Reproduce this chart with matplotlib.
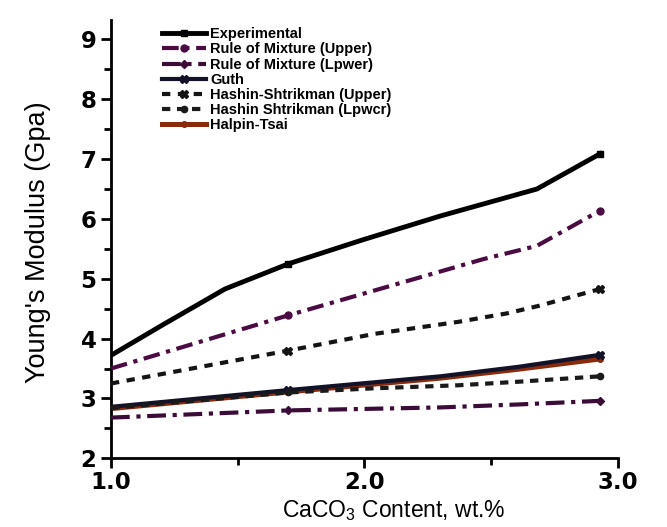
import matplotlib
matplotlib.use("Agg")
import matplotlib.pyplot as plt
from matplotlib.ticker import MultipleLocator, FixedLocator

# ---- data ----
exp_x = [1.0, 1.2, 1.45, 1.7, 2.0, 2.3, 2.68, 2.93]
exp_y = [3.72, 4.22, 4.83, 5.25, 5.66, 6.05, 6.50, 7.09]

romu_x = [1.0, 1.7, 2.47, 2.68, 2.93]
romu_y = [3.50, 4.39, 5.33, 5.55, 6.14]

roml_x = [1.0, 1.7, 2.3, 2.61, 2.93]
roml_y = [2.68, 2.80, 2.85, 2.90, 2.96]

guth_x = [1.0, 1.7, 2.3, 2.61, 2.93]
guth_y = [2.86, 3.14, 3.37, 3.53, 3.73]

hsu_x = [1.0, 1.7, 2.04, 2.37, 2.56, 2.69, 2.93]
hsu_y = [3.25, 3.80, 4.08, 4.28, 4.42, 4.55, 4.83]

hsl_x = [1.0, 1.7, 2.04, 2.37, 2.61, 2.93]
hsl_y = [2.84, 3.10, 3.17, 3.22, 3.28, 3.37]

ht_x = [1.0, 1.7, 2.3, 2.61, 2.93]
ht_y = [2.83, 3.11, 3.34, 3.49, 3.66]

labels = ["Experimental", "Rule of Mixture (Upper)", "Rule of Mixture (Lpwer)",
          "Guth", "Hashin-Shtrikman (Upper)", "Hashin Shtrikman (Lpwcr)", "Halpin-Tsai"]

x_major = [1.0, 2.0, 3.0]
x_minor = [1.5, 2.5]
x_ticklabels = ["1.0", "2.0", "3.0"]
y_ticks = [2, 3, 4, 5, 6, 7, 8, 9]

mark_at = [1.7, 2.93]

def me(xs):
    return [i for i, v in enumerate(xs) if v in mark_at]

plt.rcParams["mathtext.fontset"] = "custom"
plt.rcParams["mathtext.rm"] = "Liberation Sans"
plt.rcParams["mathtext.default"] = "rm"

fig = plt.figure(figsize=(6.67, 5.27), dpi=100)
ax = fig.add_axes([0.1664, 0.1304, 0.7601, 0.8311])

lw = 3.0
ax.plot(ht_x, ht_y, color="#8a2a0c", lw=lw + 0.6, marker="o", ms=4,
        markevery=me(ht_x), label=labels[6], zorder=2)
ax.plot(guth_x, guth_y, color="#121228", lw=lw, marker="X", ms=6,
        markevery=me(guth_x), label=labels[3], zorder=3)
ax.plot(roml_x, roml_y, color="#3c0c38", lw=lw, ls=(0, (4.5, 1.6, 1.0, 1.6)),
        marker="D", ms=4.5, markevery=me(roml_x), label=labels[2], zorder=3)
ax.plot(hsl_x, hsl_y, color="#1a1a1a", lw=lw, ls=(0, (2.0, 1.6)),
        marker="o", ms=4.5, markevery=me(hsl_x), label=labels[5], zorder=3)
ax.plot(hsu_x, hsu_y, color="#141414", lw=lw, ls=(0, (2.0, 1.8)),
        marker="X", ms=6, markevery=me(hsu_x), label=labels[4], zorder=3)
ax.plot(romu_x, romu_y, color="#4a0c42", lw=lw, ls=(0, (4.0, 1.6, 1.0, 1.6)),
        marker="o", ms=5, markevery=me(romu_x), label=labels[1], zorder=3)
ax.plot(exp_x, exp_y, color="#000000", lw=lw + 0.5, marker="s", ms=5,
        markevery=me(exp_x), label=labels[0], zorder=4)

ax.set_xlim(1.0, 3.0)
ax.set_ylim(2.0, 9.32)
for s in ["top", "right"]:
    ax.spines[s].set_visible(False)
for s in ["left", "bottom"]:
    ax.spines[s].set_linewidth(2.0)

ax.xaxis.set_major_locator(FixedLocator(x_major))
ax.xaxis.set_minor_locator(FixedLocator(x_minor))
ax.set_xticklabels(x_ticklabels)
ax.yaxis.set_major_locator(FixedLocator(y_ticks))
ax.yaxis.set_minor_locator(MultipleLocator(0.5))
ax.tick_params(axis="both", which="major", length=7, width=2, direction="out")
ax.tick_params(axis="both", which="minor", length=5, width=2, direction="out")
ax.tick_params(axis="x", which="major", pad=2)
for lab in ax.get_xticklabels() + ax.get_yticklabels():
    lab.set_fontsize(16.5)
    lab.set_fontweight("heavy")
    lab.set_family("DejaVu Sans")

ax.set_ylabel("Young's Modulus (Gpa)", fontsize=19.5, family="Liberation Sans")
ax.yaxis.set_label_coords(-0.118, 0.494)
ax.set_xlabel("CaCO$_3$ Content, wt.%", fontsize=16.5, family="Liberation Sans")
ax.xaxis.set_label_coords(0.558, -0.09)

handles, labs = ax.get_legend_handles_labels()
order = [labs.index(l) for l in labels]
leg = fig.legend([handles[i] for i in order], [labs[i] for i in order],
                 loc="upper left", bbox_to_anchor=(0.232, 0.962),
                 frameon=False, handlelength=3.0, handletextpad=0.3,
                 labelspacing=0.08, borderpad=0,
                 prop={"family": "Liberation Sans", "weight": "bold", "size": 10.5})

fig.savefig("out.png", dpi=100)
